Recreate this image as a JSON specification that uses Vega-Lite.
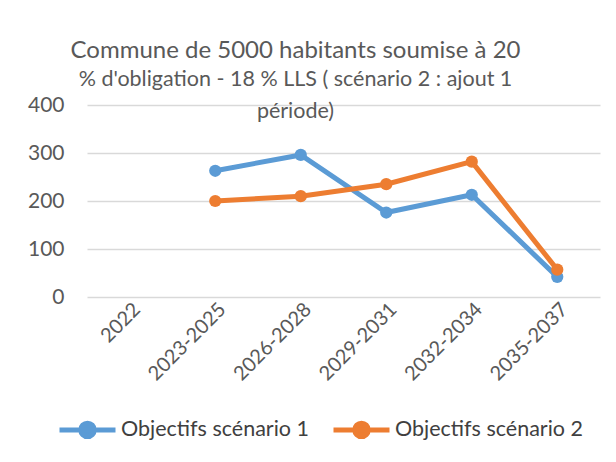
{
  "$schema": "https://vega.github.io/schema/vega-lite/v6.json",
  "autosize": {"type": "none"},
  "width": 513,
  "height": 192,
  "padding": {"left": 87, "top": 105, "right": 16, "bottom": 165},
  "background": "white",
  "title": {
    "text": "Commune de 5000 habitants soumise à 20",
    "subtitle": ["% d'obligation - 18 % LLS  ( scénario 2 : ajout 1", "période)"],
    "anchor": "middle",
    "dx": -48,
    "offset": -28,
    "font": "Lato",
    "fontSize": 24,
    "fontWeight": "normal",
    "color": "#595959",
    "subtitleFont": "Lato",
    "subtitleFontSize": 21.5,
    "subtitleColor": "#595959",
    "subtitleLineHeight": 32,
    "subtitlePadding": 6
  },
  "data": {
    "values": [
      {"periode": "2023-2025", "serie": "Objectifs scénario 1", "valeur": 263},
      {"periode": "2026-2028", "serie": "Objectifs scénario 1", "valeur": 296},
      {"periode": "2029-2031", "serie": "Objectifs scénario 1", "valeur": 176},
      {"periode": "2032-2034", "serie": "Objectifs scénario 1", "valeur": 213},
      {"periode": "2035-2037", "serie": "Objectifs scénario 1", "valeur": 42},
      {"periode": "2023-2025", "serie": "Objectifs scénario 2", "valeur": 200},
      {"periode": "2026-2028", "serie": "Objectifs scénario 2", "valeur": 210},
      {"periode": "2029-2031", "serie": "Objectifs scénario 2", "valeur": 235},
      {"periode": "2032-2034", "serie": "Objectifs scénario 2", "valeur": 282},
      {"periode": "2035-2037", "serie": "Objectifs scénario 2", "valeur": 57}
    ]
  },
  "encoding": {
    "x": {
      "field": "periode",
      "type": "nominal",
      "sort": null,
      "scale": {"domain": ["2022", "2023-2025", "2026-2028", "2029-2031", "2032-2034", "2035-2037"], "padding": 0.5},
      "axis": {
        "title": null,
        "labelAngle": -45,
        "labelFont": "Lato",
        "labelFontSize": 20,
        "labelColor": "#595959",
        "labelPadding": 2,
        "ticks": false,
        "domain": false,
        "grid": false
      }
    },
    "y": {
      "field": "valeur",
      "type": "quantitative",
      "scale": {"domain": [0, 400], "nice": false},
      "axis": {
        "title": null,
        "values": [0, 100, 200, 300, 400],
        "labelFont": "Lato",
        "labelFontSize": 21,
        "labelColor": "#595959",
        "labelPadding": 23,
        "ticks": false,
        "domain": false,
        "gridColor": "#d9d9d9",
        "gridWidth": 1.5
      }
    },
    "color": {
      "field": "serie",
      "type": "nominal",
      "scale": {"domain": ["Objectifs scénario 1", "Objectifs scénario 2"], "range": ["#5B9BD5", "#ED7D31"]},
      "legend": {
        "title": null,
        "orient": "none",
        "direction": "horizontal",
        "legendX": -30,
        "legendY": 294,
        "labelFont": "Lato",
        "labelFontSize": 21.5,
        "labelColor": "#404040",
        "labelOffset": 3,
        "columnPadding": 14,
        "symbolType": "M-1,0H1M0.24,0A0.24,0.24 0 1 1 -0.24,0A0.24,0.24 0 1 1 0.24,0Z",
        "symbolSize": 3136,
        "symbolStrokeWidth": 5,
        "labelLimit": 300
      }
    }
  },
  "layer": [
    {"mark": {"type": "line", "strokeWidth": 5}},
    {"mark": {"type": "point", "filled": true, "opacity": 1, "size": 150}}
  ],
  "config": {"view": {"stroke": null}}
}
